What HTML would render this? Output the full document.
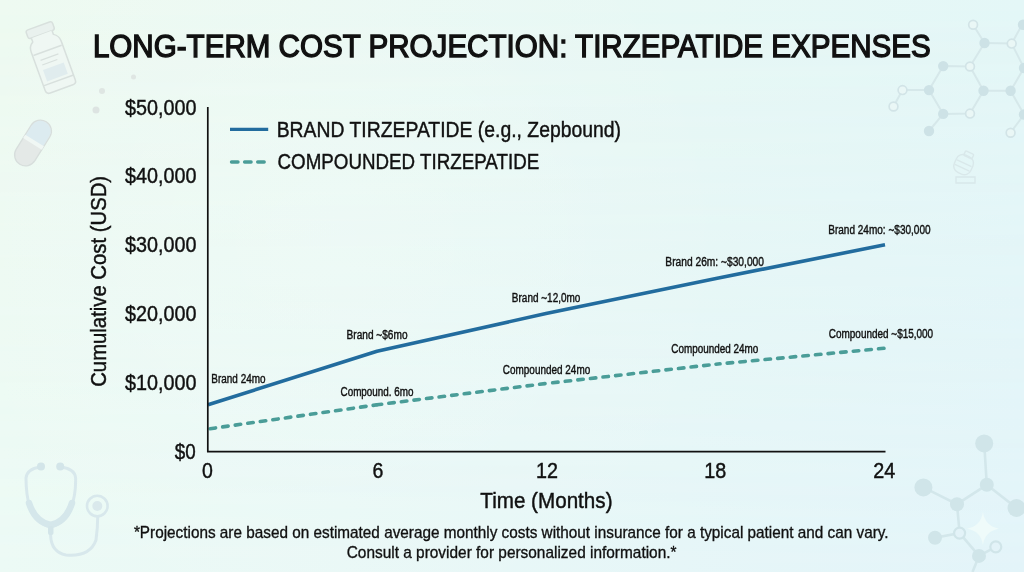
<!DOCTYPE html>
<html><head><meta charset="utf-8"><title>Long-Term Cost Projection</title>
<style>html,body{margin:0;padding:0;width:1024px;height:572px;overflow:hidden;background:#eaf7f4}svg{display:block;will-change:transform}</style></head>
<body>
<svg width="1024" height="572" viewBox="0 0 1024 572">
<defs>
<linearGradient id="gt" x1="0" y1="0" x2="1" y2="0">
<stop offset="0" stop-color="#eefaf1"/>
<stop offset="1" stop-color="#e4f7f7"/>
</linearGradient>
<linearGradient id="gb" x1="0" y1="0" x2="1" y2="0">
<stop offset="0" stop-color="#ecfaf5"/>
<stop offset="1" stop-color="#e3f4f9"/>
</linearGradient>
<linearGradient id="gv" x1="0" y1="0" x2="0" y2="1">
<stop offset="0" stop-color="#fff" stop-opacity="0"/>
<stop offset="1" stop-color="#fff" stop-opacity="1"/>
</linearGradient>
<radialGradient id="glow" cx="330" cy="240" r="430" gradientUnits="userSpaceOnUse">
<stop offset="0" stop-color="#fff" stop-opacity="0.16"/>
<stop offset="1" stop-color="#fff" stop-opacity="0"/>
</radialGradient>
<mask id="mv" maskContentUnits="userSpaceOnUse"><rect width="1024" height="572" fill="url(#gv)"/></mask>
</defs>
<rect width="1024" height="572" fill="url(#gt)"/>
<rect width="1024" height="572" fill="url(#gb)" mask="url(#mv)"/>
<rect width="1024" height="572" fill="url(#glow)"/>
<g id="deco">
<!-- vial -->
<g transform="translate(49.6,56) rotate(-20)" fill="none" stroke="#d8e0dd" stroke-width="1.5" stroke-linejoin="round">
<rect x="-14" y="-32" width="28" height="9" rx="2.5" fill="#e9f1ee"/>
<path d="M-11,-23 V-19 Q-16,-16 -16,-10 V31 Q-16,35 -12,35 H12 Q16,35 16,31 V-10 Q16,-16 11,-19 V-23" fill="#eff7f3"/>
<line x1="-15" y1="-6" x2="15" y2="-6"/>
<line x1="-16" y1="26" x2="16" y2="26"/>
<line x1="-10" y1="1" x2="9" y2="1" stroke-width="1.1"/>
<line x1="-10" y1="6" x2="6" y2="6" stroke-width="1.1"/>
<rect x="-11" y="11" width="22" height="12" fill="#e0ecee" stroke="none"/>
</g>
<!-- pill -->
<g transform="translate(33,143) rotate(-58)">
<rect x="-25" y="-11" width="50" height="22" rx="11" fill="#e4e9e7" stroke="#d7dedc" stroke-width="1.3"/>
<path d="M2,-10.3 H14 A10.3,10.3 0 0 1 14,10.3 H2 Z" fill="#dcebf0"/>
<rect x="-1" y="-11" width="4" height="22" fill="#f0f7f4"/>
</g>
<!-- dots -->
<circle cx="133.5" cy="77" r="2.5" fill="#dfe6e3"/>
<circle cx="102" cy="91" r="3" fill="#dfe6e3"/>
<circle cx="96" cy="110" r="3.5" fill="#dde4e2"/>
<!-- molecule top right -->
<g stroke="#d6e8ea" stroke-width="2" fill="none">
<path d="M943.2,66.1 L970,66.5 L983.5,90.7 L970,113.6 L943.2,113.9 L929,90.1 Z"/>
<path d="M929,90.1 L902.5,90.1 L893.5,106.5"/>
<path d="M943.2,113.9 L929,131"/>
<path d="M970,66.5 L984.5,43 L973.1,24.8"/>
<path d="M984.5,43 L1011.7,43.6 L1022,24.8"/>
<path d="M1011.7,43.6 L1024,68"/>
<path d="M983.5,90.7 L1010.6,90.7 L1024,68"/>
<path d="M1010.6,90.7 L1024,114.5 L1010.6,132.7"/>
</g>
<g fill="#cde2e6">
<circle cx="943.2" cy="66.1" r="5.2"/>
<circle cx="983.5" cy="90.7" r="5.2"/>
<circle cx="943.2" cy="113.9" r="5.2"/>
<circle cx="929" cy="90.1" r="5.2"/>
<circle cx="929" cy="131" r="5.2"/>
<circle cx="984.5" cy="43" r="5.2"/>
<circle cx="1010.6" cy="90.7" r="5.2"/>
<circle cx="1023" cy="24.8" r="5.2"/>
<circle cx="1024" cy="68" r="5.2"/>
<circle cx="1024" cy="114.5" r="5.2"/>
</g>
<g fill="#eaf7f6" stroke="#d2e4e7" stroke-width="1.7">
<circle cx="970" cy="66.5" r="4.4"/>
<circle cx="970" cy="113.6" r="4.4"/>
<circle cx="902.5" cy="90.1" r="4.4"/>
<circle cx="893.5" cy="106.5" r="4.4"/>
<circle cx="973.1" cy="24.8" r="4.4"/>
<circle cx="1011.7" cy="43.6" r="4.4"/>
<circle cx="1010.6" cy="132.7" r="4.4"/>
</g>
<!-- small bottle icon -->
<g transform="translate(963,166) rotate(25)" fill="none" stroke="#d9e8ea" stroke-width="1.4">
<rect x="-4" y="-15" width="9" height="5" rx="1"/>
<rect x="-9" y="-11" width="18" height="19" rx="7"/>
<line x1="-8" y1="-3" x2="8" y2="-3"/>
<line x1="-8" y1="2" x2="8" y2="2"/>
</g>
<path d="M956,177 H975 V183 H956 Z" fill="none" stroke="#d8e7ea" stroke-width="1.3"/>
<!-- stethoscope -->
<g fill="none" stroke="#d8e8ec" stroke-linecap="round" stroke-linejoin="round">
<path d="M40,467 Q27,469 26,478 Q26,495 30,508 Q37,524 50.6,527 Q64,524 71,508 Q76,495 75.6,478 Q75,469 61,467" stroke-width="3"/>
<path d="M29,503 Q35,522 50.6,525 Q66,522 72,503" stroke-width="6.5" stroke="#d5e7eb"/>
<path d="M50.6,527 V535 Q51,552 66,555 Q90,557 96,540 Q97.7,528 97.7,517" stroke-width="3"/>
<circle cx="97.3" cy="506" r="10.3" stroke-width="2.6"/>
</g>
<g fill="#d3e5e9">
<circle cx="41" cy="466.5" r="4"/>
<circle cx="60.2" cy="466.5" r="4"/>
<circle cx="97.3" cy="506" r="5" fill="#dae9ec"/>
<rect x="48" y="526" width="5.5" height="9" rx="2"/>
</g>
<!-- molecule bottom right -->
<g stroke="#d3e7eb" stroke-width="2.6" fill="none">
<path d="M984.2,443.4 L986.8,484.8 L957,504.2 L923.4,487.4"/>
<path d="M986.8,484.8 L1016.5,508"/>
<path d="M957,504.2 L959.6,533.1 L935,537.8"/>
<path d="M959.6,533.1 L979,555.9 L995.8,546.8"/>
<path d="M979,555.9 L972.5,572"/>
</g>
<g fill="#d0e5e9">
<circle cx="984.2" cy="443.4" r="9"/>
<circle cx="986.8" cy="484.8" r="7"/>
<circle cx="923.4" cy="487.4" r="9"/>
<circle cx="1016.5" cy="508" r="9"/>
<circle cx="957" cy="504.2" r="7"/>
<circle cx="935" cy="537.8" r="7"/>
<circle cx="979" cy="555.9" r="7"/>
</g>
<g fill="#e3f3f8" stroke="#d0e5e9" stroke-width="2.2">
<circle cx="959.6" cy="533.1" r="5.5"/>
<circle cx="995.8" cy="546.8" r="5.5"/>
</g>
<path d="M982.9,512 Q985,526 999,528.7 Q985,531 982.9,545 Q981,531 967,528.7 Q981,526 982.9,512 Z" fill="#effbfa"/>
</g>

<g font-family="'Liberation Sans', sans-serif" fill="#111" stroke="#111">
<text x="125.00" y="114.60" font-size="22.60" font-weight="normal" textLength="71.39" lengthAdjust="spacingAndGlyphs" stroke-width="0.45">$50,000</text>
<text x="125.00" y="183.40" font-size="22.60" font-weight="normal" textLength="71.39" lengthAdjust="spacingAndGlyphs" stroke-width="0.45">$40,000</text>
<text x="125.00" y="252.20" font-size="22.60" font-weight="normal" textLength="71.39" lengthAdjust="spacingAndGlyphs" stroke-width="0.45">$30,000</text>
<text x="125.00" y="321.00" font-size="22.60" font-weight="normal" textLength="71.39" lengthAdjust="spacingAndGlyphs" stroke-width="0.45">$20,000</text>
<text x="125.00" y="389.80" font-size="22.60" font-weight="normal" textLength="71.39" lengthAdjust="spacingAndGlyphs" stroke-width="0.45">$10,000</text>
<text x="174.70" y="459.10" font-size="22.60" font-weight="normal" textLength="20.92" lengthAdjust="spacingAndGlyphs" stroke-width="0.45">$0</text>
<text x="202.04" y="478.40" font-size="22.60" font-weight="normal" textLength="10.86" lengthAdjust="spacingAndGlyphs" stroke-width="0.45">0</text>
<text x="372.60" y="478.4" font-size="22.6" textLength="10.86" lengthAdjust="spacingAndGlyphs" stroke-width="0.45">6</text>
<text x="535.93" y="478.40" font-size="22.60" font-weight="normal" textLength="21.97" lengthAdjust="spacingAndGlyphs" stroke-width="0.45">12</text>
<text x="704.33" y="478.40" font-size="22.60" font-weight="normal" textLength="21.97" lengthAdjust="spacingAndGlyphs" stroke-width="0.45">18</text>
<text x="873.23" y="478.40" font-size="22.60" font-weight="normal" textLength="21.97" lengthAdjust="spacingAndGlyphs" stroke-width="0.45">24</text>
<text x="92.90" y="56.60" font-size="31.10" font-weight="normal" textLength="837.82" lengthAdjust="spacingAndGlyphs" stroke-width="1.35">LONG-TERM COST PROJECTION: TIRZEPATIDE EXPENSES</text>
<text x="276.69" y="136.50" font-size="22.60" font-weight="normal" textLength="344.31" lengthAdjust="spacingAndGlyphs" stroke-width="0.45">BRAND TIRZEPATIDE (e.g., Zepbound)</text>
<text x="277.57" y="169.00" font-size="22.60" font-weight="normal" textLength="261.63" lengthAdjust="spacingAndGlyphs" stroke-width="0.45">COMPOUNDED TIRZEPATIDE</text>
<text x="480.30" y="507.50" font-size="22.60" font-weight="normal" textLength="132.23" lengthAdjust="spacingAndGlyphs" stroke-width="0.45">Time (Months)</text>
<text x="133.90" y="537.90" font-size="17.00" font-weight="normal" textLength="754.69" lengthAdjust="spacingAndGlyphs" stroke-width="0.35">*Projections are based on estimated average monthly costs without insurance for a typical patient and can vary.</text>
<text x="346.69" y="557.60" font-size="17.00" font-weight="normal" textLength="329.84" lengthAdjust="spacingAndGlyphs" stroke-width="0.35">Consult a provider for personalized information.*</text>
<text x="211.37" y="382.60" font-size="12.00" font-weight="normal" textLength="54.14" lengthAdjust="spacingAndGlyphs" stroke-width="0.4">Brand 24mo</text>
<text x="346.56" y="338.75" font-size="12.00" font-weight="normal" textLength="60.97" lengthAdjust="spacingAndGlyphs" stroke-width="0.4">Brand ~$6mo</text>
<text x="340.50" y="395.60" font-size="12.00" font-weight="normal" textLength="73.09" lengthAdjust="spacingAndGlyphs" stroke-width="0.4">Compound. 6mo</text>
<text x="511.87" y="301.70" font-size="12.00" font-weight="normal" textLength="68.56" lengthAdjust="spacingAndGlyphs" stroke-width="0.4">Brand ~12,0mo</text>
<text x="502.80" y="373.60" font-size="12.00" font-weight="normal" textLength="87.44" lengthAdjust="spacingAndGlyphs" stroke-width="0.4">Compounded 24mo</text>
<text x="665.35" y="265.60" font-size="12.00" font-weight="normal" textLength="98.60" lengthAdjust="spacingAndGlyphs" stroke-width="0.4">Brand 26m: ~$30,000</text>
<text x="671.30" y="352.70" font-size="12.00" font-weight="normal" textLength="87.04" lengthAdjust="spacingAndGlyphs" stroke-width="0.4">Compounded 24mo</text>
<text x="828.26" y="233.80" font-size="12.00" font-weight="normal" textLength="102.30" lengthAdjust="spacingAndGlyphs" stroke-width="0.4">Brand 24mo: ~$30,000</text>
<text x="828.80" y="337.80" font-size="12.00" font-weight="normal" textLength="104.35" lengthAdjust="spacingAndGlyphs" stroke-width="0.4">Compounded ~$15,000</text>
<g transform="translate(106,385.9) rotate(-90)"><text x="-0.90" y="0" font-size="22.60" textLength="210.90" lengthAdjust="spacingAndGlyphs" stroke-width="0.45">Cumulative Cost (USD)</text></g>
</g>
<polyline points="208,404.7 377,351.3 546,313.5 716,278.5 885,244.8" fill="none" stroke="#226c9e" stroke-width="3.6" stroke-linejoin="round"/>
<path d="M208,429.0 L377,404.8" fill="none" stroke="#4a9d98" stroke-width="3.6" stroke-dasharray="5.5 7.165" stroke-linecap="round" stroke-dashoffset="-2.17"/>
<path d="M377,404.8 L546,383.5" fill="none" stroke="#4a9d98" stroke-width="3.6" stroke-dasharray="5.5 7.165" stroke-linecap="round" stroke-dashoffset="-11.90"/>
<path d="M546,383.5 L716,364.2" fill="none" stroke="#4a9d98" stroke-width="3.6" stroke-dasharray="5.5 7.165" stroke-linecap="round" stroke-dashoffset="-6.66"/>
<path d="M716,364.2 L885,348.2" fill="none" stroke="#4a9d98" stroke-width="3.6" stroke-dasharray="5.5 7.165" stroke-linecap="round" stroke-dashoffset="-11.24"/>

<path d="M207.8 107 V451.6 H885.5" fill="none" stroke="#111" stroke-width="1.7"/>

<line x1="230" y1="129.4" x2="268.2" y2="129.4" stroke="#226c9e" stroke-width="3.1"/>
<line x1="231.5" y1="162" x2="266" y2="162" stroke="#4a9d98" stroke-width="3.4" stroke-dasharray="6.5 6.6" stroke-linecap="round"/>
</svg>
</body></html>
